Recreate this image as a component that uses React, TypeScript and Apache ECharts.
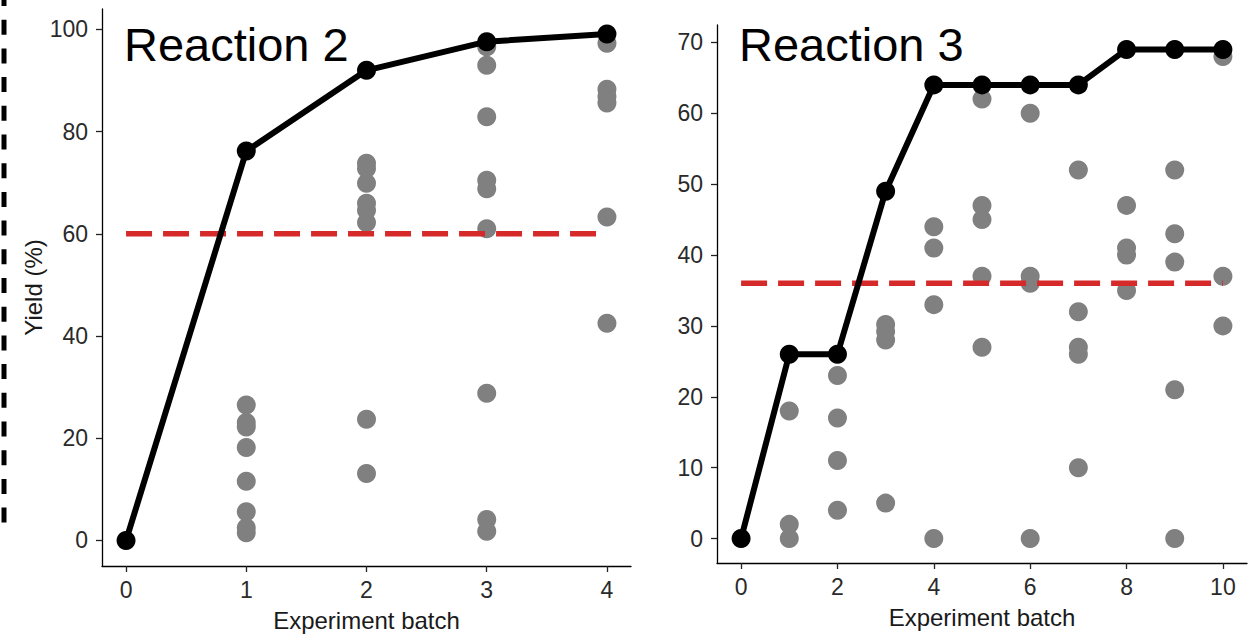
import React, { useEffect, useRef } from "react";
import * as echarts from "echarts";

// Reaction 2 (left panel)
const r2Batches = [0, 1, 2, 3, 4];
const r2Best = [0, 76.2, 92.0, 97.6, 99.1];
const r2Points: number[][] = [
  [1, 26.5], [1, 23.1], [1, 22.2], [1, 18.2], [1, 11.6], [1, 5.6], [1, 2.5], [1, 1.5],
  [2, 73.8], [2, 72.8], [2, 69.9], [2, 66.0], [2, 64.6], [2, 62.2], [2, 23.7], [2, 13.1],
  [3, 96.6], [3, 93.0], [3, 82.9], [3, 70.5], [3, 68.8], [3, 61.0], [3, 28.8], [3, 4.1], [3, 1.8],
  [4, 97.3], [4, 88.3], [4, 86.9], [4, 85.6], [4, 63.3], [4, 42.5],
];
const r2Threshold = 60;
const r2XTicks = [0, 1, 2, 3, 4];
const r2YTicks = [0, 20, 40, 60, 80, 100];

// Reaction 3 (right panel)
const r3Batches = [0, 1, 2, 3, 4, 5, 6, 7, 8, 9, 10];
const r3Best = [0, 26, 26, 49, 64, 64, 64, 64, 69, 69, 69];
const r3Points: number[][] = [
  [1, 18], [1, 2], [1, 0],
  [2, 23], [2, 17], [2, 11], [2, 4],
  [3, 30.2], [3, 29.2], [3, 28], [3, 5],
  [4, 44], [4, 41], [4, 33], [4, 0],
  [5, 62], [5, 47], [5, 45], [5, 37], [5, 27],
  [6, 60], [6, 37], [6, 36], [6, 0],
  [7, 52], [7, 32], [7, 27], [7, 26], [7, 10],
  [8, 47], [8, 41], [8, 40], [8, 35],
  [9, 52], [9, 43], [9, 39], [9, 21], [9, 0],
  [10, 68], [10, 37], [10, 30],
];
const r3Threshold = 36;
const r3XTicks = [0, 2, 4, 6, 8, 10];
const r3YTicks = [0, 10, 20, 30, 40, 50, 60, 70];

const FONT = "Liberation Sans, Arial, Helvetica, sans-serif";

export default function App() {
  const ref = useRef<HTMLDivElement>(null);
  useEffect(() => {
    if (!ref.current) return;
    const chart = echarts.init(ref.current, undefined, { renderer: "svg" });

    const axisCommon = {
      type: "value" as const,
      splitLine: { show: false },
      axisLine: { show: true, onZero: false, lineStyle: { color: "#000", width: 1.3 } },
      nameTextStyle: { fontSize: 24, color: "#1a1a1a", fontFamily: FONT },
    };
    const xAxis = (grid: number, min: number, max: number, ticks: number[]) => ({
      ...axisCommon,
      gridIndex: grid,
      min,
      max,
      name: "Experiment batch",
      nameLocation: "middle",
      nameGap: 42,
      axisTick: { show: true, length: 6, customValues: ticks, lineStyle: { color: "#222", width: 1.3 } },
      axisLabel: { customValues: ticks, fontSize: 23, color: "#2a2a2a", fontFamily: FONT, margin: 12 },
    });
    const yAxis = (grid: number, min: number, max: number, ticks: number[], name: string) => ({
      ...axisCommon,
      gridIndex: grid,
      min,
      max,
      name,
      nameLocation: "middle",
      nameGap: 57,
      axisTick: { show: true, length: 6, customValues: ticks, lineStyle: { color: "#222", width: 1.3 } },
      axisLabel: { customValues: ticks, fontSize: 23, color: "#2a2a2a", fontFamily: FONT, margin: 14 },
    });

    const gray = (i: number, data: number[][]) => ({
      type: "scatter",
      xAxisIndex: i,
      yAxisIndex: i,
      data,
      symbol: "circle",
      symbolSize: 19,
      itemStyle: { color: "#808080", opacity: 1 },
      z: 2,
    });
    const threshold = (i: number, x0: number, x1: number, v: number) => ({
      type: "line",
      xAxisIndex: i,
      yAxisIndex: i,
      data: [[x0, v], [x1, v]],
      symbol: "none",
      lineStyle: { color: "#D62A2A", width: 5.5, type: [26, 11] },
      z: 3,
    });
    const best = (i: number, xs: number[], ys: number[]) => ({
      type: "line",
      xAxisIndex: i,
      yAxisIndex: i,
      data: xs.map((x, k) => [x, ys[k]]),
      symbol: "circle",
      symbolSize: 19,
      lineStyle: { color: "#000", width: 6 },
      itemStyle: { color: "#000" },
      z: 4,
    });

    chart.setOption({
      animation: false,
      backgroundColor: "#fff",
      grid: [
        { left: 102, top: 9, width: 529, height: 557 },
        { left: 717, top: 25, width: 530, height: 538 },
      ],
      xAxis: [
        xAxis(0, -0.2, 4.2, r2XTicks),
        xAxis(1, -0.5, 10.5, r3XTicks),
      ],
      yAxis: [
        yAxis(0, -5, 104, r2YTicks, "Yield (%)"),
        yAxis(1, -3.45, 72.45, r3YTicks, ""),
      ],
      series: [
        gray(0, r2Points),
        threshold(0, r2Batches[0], r2Batches[r2Batches.length - 1], r2Threshold),
        best(0, r2Batches, r2Best),
        gray(1, r3Points),
        threshold(1, r3Batches[0], r3Batches[r3Batches.length - 1], r3Threshold),
        best(1, r3Batches, r3Best),
      ],
      graphic: [
        {
          type: "text",
          x: 124,
          y: 44,
          style: { text: "Reaction 2", font: `47px ${FONT}`, fill: "#000", verticalAlign: "middle" },
          z: 10,
        },
        {
          type: "text",
          x: 739,
          y: 44,
          style: { text: "Reaction 3", font: `47px ${FONT}`, fill: "#000", verticalAlign: "middle" },
          z: 10,
        },
        {
          type: "line",
          shape: { x1: 4, y1: -9, x2: 4, y2: 525 },
          style: { stroke: "#000", lineWidth: 5, lineDash: [15, 13.7] },
        },
      ],
    });
    return () => chart.dispose();
  }, []);
  return (
    <div
      ref={ref}
      style={{ position: "absolute", left: 0, top: 0, width: 1255, height: 641 }}
    />
  );
}
